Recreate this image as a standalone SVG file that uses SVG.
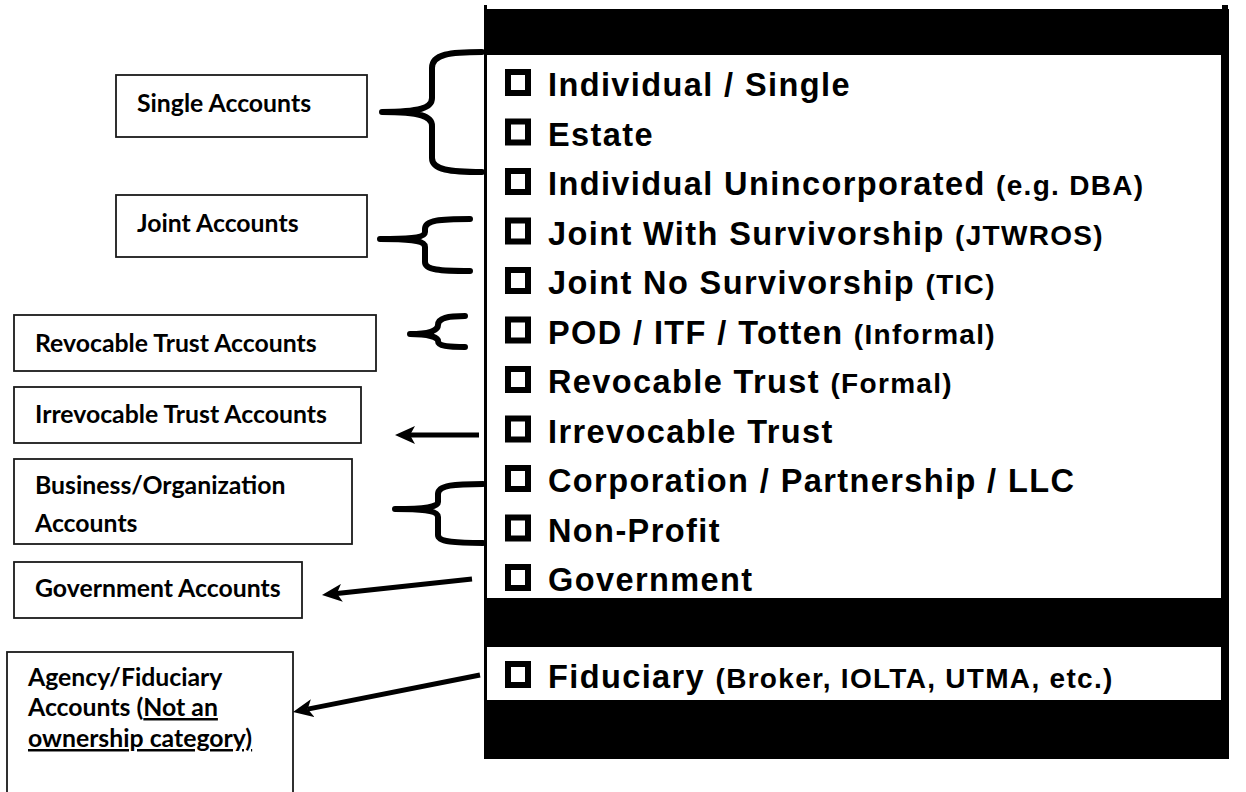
<svg xmlns="http://www.w3.org/2000/svg" width="1246" height="792" viewBox="0 0 1246 792">
<defs>
<style>
.box{fill:#fff;stroke:#1a1a1a;stroke-width:1.8}
.bl{font-family:Lato,"Liberation Sans",sans-serif;font-weight:bold;font-size:24.8px;fill:#000}
.it{font-family:"Liberation Sans",Arial,sans-serif;font-weight:bold;font-size:32.5px;letter-spacing:1.4px;fill:#000}
.sm{font-size:28px;letter-spacing:1.3px}
.cb{fill:none;stroke:#000;stroke-width:6}
.br{fill:none;stroke:#000;stroke-width:6;stroke-linecap:round;stroke-linejoin:round}
.ar{fill:none;stroke:#000;stroke-width:5}
</style>
<marker id="ah" viewBox="0 -9 20 18" refX="5" refY="0" markerWidth="20" markerHeight="18" markerUnits="userSpaceOnUse" orient="auto">
<path d="M0,-9 L20,0 L0,9 L5,0 z" fill="#000"/>
</marker>
</defs>
<rect width="1246" height="792" fill="#fff"/>

<g id="panel">
<rect x="484" y="5" width="3" height="754" fill="#000"/>
<rect x="484" y="9" width="745" height="46" fill="#000"/>
<rect x="1222" y="5" width="6" height="6" fill="#000"/>
<rect x="1221" y="9" width="8" height="750" fill="#000"/>
<rect x="484" y="598" width="745" height="49" fill="#000"/>
<rect x="484" y="700" width="745" height="59" fill="#000"/>
</g>

<g id="items">
<rect class="cb" x="508" y="72" width="20" height="21"/>
<text class="it" x="548" y="96">Individual / Single</text>
<rect class="cb" x="508" y="121.5" width="20" height="21"/>
<text class="it" x="548" y="145.5">Estate</text>
<rect class="cb" x="508" y="171" width="20" height="21"/>
<text class="it" x="548" y="195">Individual Unincorporated <tspan class="sm">(e.g. DBA)</tspan></text>
<rect class="cb" x="508" y="220.5" width="20" height="21"/>
<text class="it" x="548" y="244.5">Joint With Survivorship <tspan class="sm">(JTWROS)</tspan></text>
<rect class="cb" x="508" y="270" width="20" height="21"/>
<text class="it" x="548" y="294">Joint No Survivorship <tspan class="sm">(TIC)</tspan></text>
<rect class="cb" x="508" y="319.5" width="20" height="21"/>
<text class="it" x="548" y="343.5">POD / ITF / Totten <tspan class="sm">(Informal)</tspan></text>
<rect class="cb" x="508" y="369" width="20" height="21"/>
<text class="it" x="548" y="393">Revocable Trust <tspan class="sm">(Formal)</tspan></text>
<rect class="cb" x="508" y="418.5" width="20" height="21"/>
<text class="it" x="548" y="442.5">Irrevocable Trust</text>
<rect class="cb" x="508" y="468" width="20" height="21"/>
<text class="it" x="548" y="492">Corporation / Partnership / LLC</text>
<rect class="cb" x="508" y="517.5" width="20" height="21"/>
<text class="it" x="548" y="541.5">Non-Profit</text>
<rect class="cb" x="508" y="567" width="20" height="21"/>
<text class="it" x="548" y="591">Government</text>
<rect class="cb" x="508" y="664" width="20" height="21"/>
<text class="it" x="548" y="688">Fiduciary <tspan class="sm">(Broker, IOLTA, UTMA, etc.)</tspan></text>
</g>

<g id="single-accounts">
<rect class="box" x="116" y="75" width="251" height="62"/>
<text class="bl" x="137" y="112">Single Accounts</text>
</g>
<g id="joint-accounts">
<rect class="box" x="116" y="195" width="251" height="62"/>
<text class="bl" x="137" y="232">Joint Accounts</text>
</g>
<g id="revocable-trust-accounts">
<rect class="box" x="14" y="315" width="362" height="56"/>
<text class="bl" x="35" y="352">Revocable Trust Accounts</text>
</g>
<g id="irrevocable-trust-accounts">
<rect class="box" x="14" y="387" width="347" height="56"/>
<text class="bl" x="35" y="423">Irrevocable Trust Accounts</text>
</g>
<g id="business-accounts">
<rect class="box" x="14" y="459" width="338" height="85"/>
<text class="bl" x="35" y="494">Business/Organization</text>
<text class="bl" x="35" y="532">Accounts</text>
</g>
<g id="government-accounts">
<rect class="box" x="14" y="562" width="288" height="56"/>
<text class="bl" x="35" y="597">Government Accounts</text>
</g>
<g id="agency-fiduciary-accounts">
<rect class="box" x="7" y="652" width="286" height="145"/>
<text class="bl" x="28" y="686">Agency/Fiduciary</text>
<text class="bl" x="28" y="716">Accounts (<tspan text-decoration="underline">Not an</tspan></text>
<text class="bl" x="28" y="747" text-decoration="underline">ownership category)</text>
</g>

<g id="connectors">
<path class="br" d="M482,52 C450,52 432,54 432,68 L432,98 C432,108 420,112 382,112 C420,112 432,116 432,126 L432,158 C432,170 450,172 482,172"/>
<path class="br" d="M470,219 C440,219 425,220 425,229 L425,232 C425,237 415,239 380,239 C415,239 425,241 425,247 L425,262 C425,270 440,271 470,271"/>
<path class="br" d="M465,316 C448,316 438,318 438,325 C438,331 428,334 410,334 C428,334 438,337 438,341 C438,346 448,347 465,347"/>
<path class="br" d="M483,484 C455,484 438,485 438,494 L438,502 C438,507 425,509 395,509 C425,509 438,511 438,517 L438,535 C438,542 455,543 483,543"/>
<line class="ar" x1="479" y1="435" x2="410" y2="435" marker-end="url(#ah)"/>
<line class="ar" x1="472" y1="579" x2="336.9" y2="593.4" marker-end="url(#ah)"/>
<line class="ar" x1="480" y1="675" x2="307.7" y2="709.1" marker-end="url(#ah)"/>
</g>
</svg>
